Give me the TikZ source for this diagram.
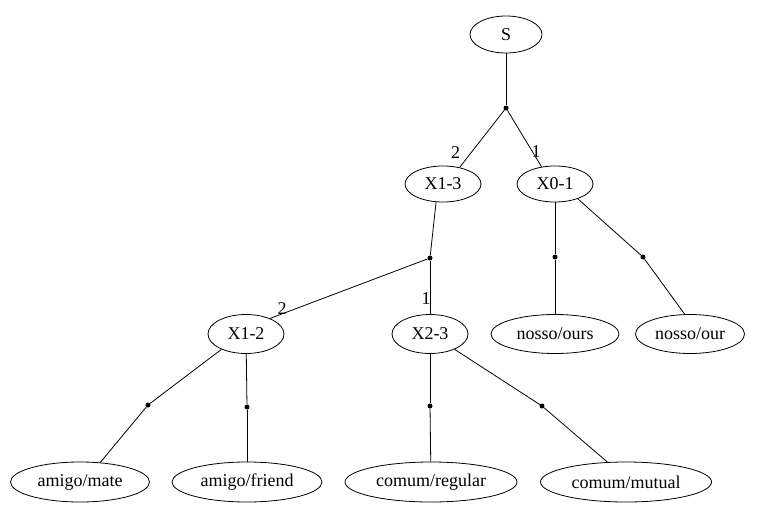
\documentclass[tikz,border=0pt]{standalone}
\usepackage{fontspec}
\setmainfont{Liberation Serif}
\usetikzlibrary{shapes.geometric}
\begin{document}
\begin{tikzpicture}[x=1pt,y=-1pt,
  nd/.style={draw,ellipse,line width=0.8pt,inner sep=0pt,font=\fontsize{18}{20}\selectfont},
  hub/.style={circle,fill=black,inner sep=0pt,minimum size=5pt},
  lbl/.style={inner sep=0pt,font=\fontsize{18}{20}\selectfont},
  edge/.style={line width=0.8pt}]
\useasboundingbox (0,0) rectangle (771,511);
% nodes
\node[nd,minimum width=72pt,minimum height=37pt] (S) at (506,34.5) {S};
\node[nd,minimum width=76pt,minimum height=36pt] (X13) at (443,184) {X1-3};
\node[nd,minimum width=76pt,minimum height=36pt] (X01) at (555,184) {X0-1};
\node[nd,minimum width=76pt,minimum height=39pt] (X12) at (246,334) {X1-2};
\node[nd,minimum width=76pt,minimum height=39pt] (X23) at (430,334) {X2-3};
\node[nd,minimum width=128pt,minimum height=39pt] (ours) at (555,334) {nosso/ours};
\node[nd,minimum width=109pt,minimum height=39pt] (our) at (690,334) {nosso/our};
\node[nd,minimum width=139pt,minimum height=40pt] (mate) at (80,482) {amigo/mate};
\node[nd,minimum width=150pt,minimum height=40pt] (friend) at (247,482) {amigo/friend};
\node[nd,minimum width=172pt,minimum height=40pt] (regular) at (431,482) {comum/regular};
\node[nd,minimum width=171pt,minimum height=40pt] (mutual) at (626,482) {comum/mutual};
% hubs
\node[hub] (h1) at (506,108) {};
\node[hub] (h2) at (430,258) {};
\node[hub] (h3) at (555,257) {};
\node[hub] (h4) at (643,257) {};
\node[hub] (h5) at (148,405) {};
\node[hub] (h6) at (247,407) {};
\node[hub] (h7) at (430,406) {};
\node[hub] (h8) at (542,406) {};
% edges
\draw[edge] (S) -- (h1);
\draw[edge] (h1) -- (X13.45);
\draw[edge] (h1) -- (X01.128);
\draw[edge] (X13.-111) -- (h2);
\draw[edge] (h2) -- (X12.33);
\draw[edge] (h2) -- (X23);
\draw[edge] (X01) -- (h3);
\draw[edge] (h3) -- (ours);
\draw[edge] (X01.-33) -- (h4);
\draw[edge] (h4) -- (our.105);
\draw[edge] (X12.-148) -- (h5);
\draw[edge] (h5) -- (mate.44);
\draw[edge] (X12) -- (h6);
\draw[edge] (h6) -- (friend);
\draw[edge] (X23) -- (h7);
\draw[edge] (h7) -- (regular);
\draw[edge] (X23.-32) -- (h8);
\draw[edge] (h8) -- (mutual.133);
% labels
\node[lbl] (l1) at (455.5,152.5) {2};
\node[lbl] (l2) at (536,152) {1};
\node[lbl] (l3) at (282,309) {2};
\node[lbl] (l4) at (426,299) {1};
\end{tikzpicture}
\end{document}
